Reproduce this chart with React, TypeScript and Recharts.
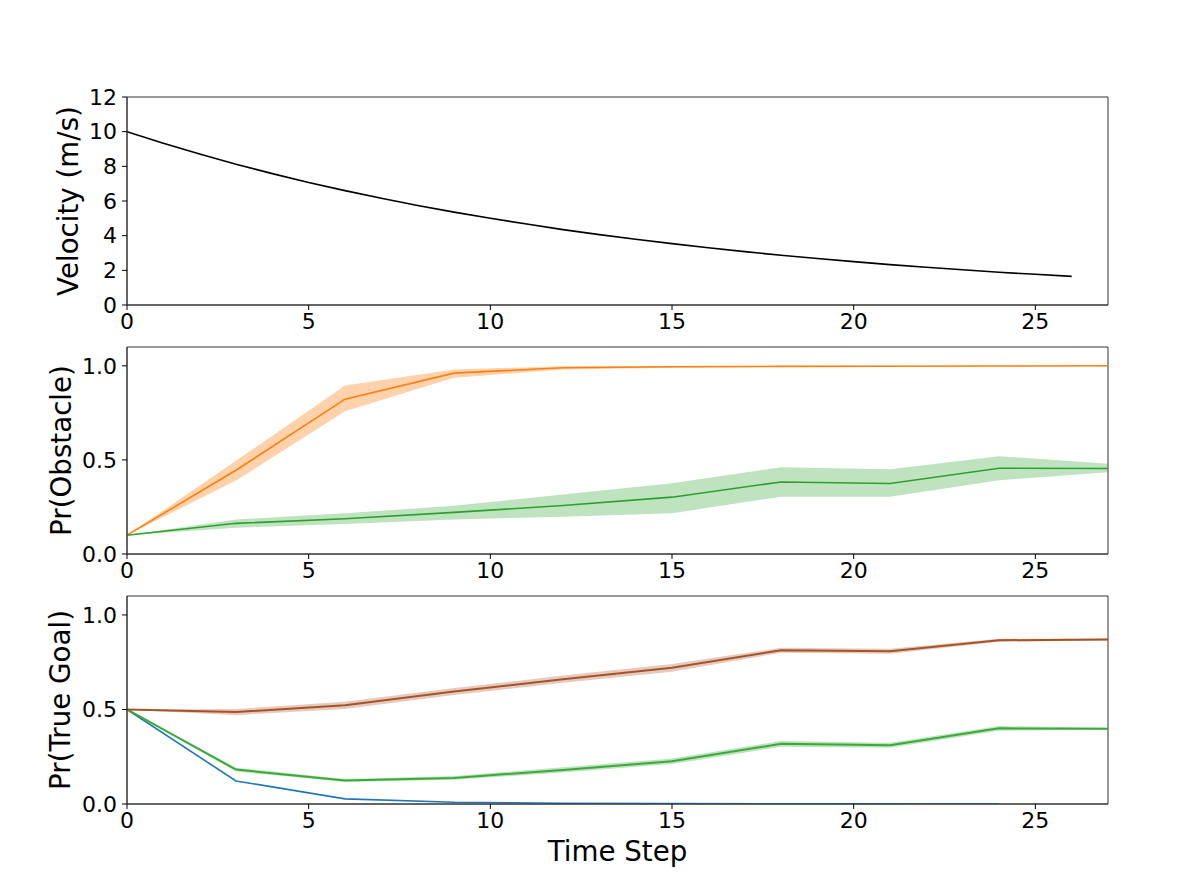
import React from 'react';
import { ComposedChart, Line, Area, XAxis, YAxis, ReferenceArea } from 'recharts';

// ---- data ----
const velocitySteps = [0, 1, 2, 3, 4, 5, 6, 7, 8, 9, 10, 11, 12, 13, 14, 15, 16, 17, 18, 19, 20, 21, 22, 23, 24, 25, 26];
const velocity = [10.0, 9.33, 8.71, 8.12, 7.58, 7.07, 6.6, 6.16, 5.74, 5.36, 5.0, 4.67, 4.35, 4.06, 3.79, 3.54, 3.3, 3.08, 2.87, 2.68, 2.5, 2.33, 2.18, 2.03, 1.89, 1.77, 1.65];

const timeSteps = [0, 3, 6, 9, 12, 15, 18, 21, 24, 27];

const obstacleOrange = [0.1, 0.445, 0.823, 0.961, 0.99, 0.995, 0.997, 0.998, 0.999, 1.0];
const obstacleOrangeLow = [0.1, 0.39, 0.758, 0.937, 0.98, 0.99, 0.994, 0.996, 0.998, 0.999];
const obstacleOrangeHigh = [0.1, 0.495, 0.896, 0.98, 0.998, 0.999, 1.0, 1.0, 1.0, 1.0];
const obstacleGreen = [0.1, 0.163, 0.187, 0.221, 0.258, 0.302, 0.383, 0.375, 0.456, 0.454];
const obstacleGreenLow = [0.1, 0.14, 0.16, 0.184, 0.198, 0.217, 0.304, 0.304, 0.392, 0.435];
const obstacleGreenHigh = [0.1, 0.184, 0.216, 0.256, 0.316, 0.376, 0.461, 0.45, 0.52, 0.48];

const goalBrown = [0.5, 0.486, 0.522, 0.595, 0.66, 0.72, 0.813, 0.808, 0.866, 0.87];
const goalBrownLow = [0.5, 0.47, 0.503, 0.577, 0.641, 0.7, 0.8, 0.795, 0.858, 0.865];
const goalBrownHigh = [0.5, 0.502, 0.541, 0.613, 0.679, 0.74, 0.826, 0.821, 0.874, 0.875];
const goalGreen = [0.5, 0.182, 0.124, 0.138, 0.18, 0.226, 0.318, 0.311, 0.4, 0.398];
const goalGreenLow = [0.5, 0.172, 0.116, 0.128, 0.166, 0.211, 0.303, 0.298, 0.388, 0.393];
const goalGreenHigh = [0.5, 0.192, 0.132, 0.148, 0.194, 0.241, 0.333, 0.324, 0.412, 0.403];
const goalBlue = [0.5, 0.122, 0.027, 0.009, 0.004, 0.002, 0.001, 0.001, 0.0];

const xTicks = [0, 5, 10, 15, 20, 25];
const velocityTicks = [0, 2, 4, 6, 8, 10, 12];
const probTicks = [0, 0.5, 1.0];

// ---- built tables ----
const velocityData = velocitySteps.map((t, i) => ({ t, v: velocity[i] }));
const obstacleData = timeSteps.map((t, i) => ({
  t,
  orange: obstacleOrange[i],
  orangeBand: [obstacleOrangeLow[i], obstacleOrangeHigh[i]],
  green: obstacleGreen[i],
  greenBand: [obstacleGreenLow[i], obstacleGreenHigh[i]],
}));
const goalData = timeSteps.map((t, i) => ({
  t,
  brown: goalBrown[i],
  brownBand: [goalBrownLow[i], goalBrownHigh[i]],
  green: goalGreen[i],
  greenBand: [goalGreenLow[i], goalGreenHigh[i]],
  blue: i < goalBlue.length ? goalBlue[i] : null,
}));

const FONT = 'DejaVu Sans';
const TICK_FONT = 22;
const LABEL_FONT = 27.7;
const W = 1196;
const MARGIN_LEFT = 67;
const Y_AXIS_W = 60;
const MARGIN_RIGHT = 88;
const FRAME = '#333';

const tickStyle = { fontFamily: FONT, fontSize: TICK_FONT, fill: '#000' };

const makeYLabel = (text: string, baselineX: number) => (props: any) => {
  const vb = props.viewBox || {};
  const cy = vb.y + vb.height / 2;
  return (
    <text
      x={baselineX}
      y={cy}
      transform={`rotate(-90, ${baselineX}, ${cy})`}
      textAnchor="middle"
      fontFamily={FONT}
      fontSize={LABEL_FONT}
      fill="#000"
    >
      {text}
    </text>
  );
};

const XLabel = (props: any) => {
  const vb = props.viewBox || {};
  const cx = vb.x + vb.width / 2;
  return (
    <text x={cx} y={vb.y + 57} textAnchor="middle" fontFamily={FONT} fontSize={LABEL_FONT} fill="#000">
      Time Step
    </text>
  );
};

const fmt1 = (v: number) => v.toFixed(1);

export default function App() {
  return (
    <div style={{ position: 'absolute', left: 0, top: 0, width: W, height: 892, background: '#fff' }}>
      {/* Velocity */}
      <div style={{ position: 'absolute', left: 0, top: 0 }}>
        <ComposedChart
          width={W}
          height={345}
          data={velocityData}
          margin={{ top: 97, right: MARGIN_RIGHT, bottom: 0, left: MARGIN_LEFT }}
        >
          <XAxis
            dataKey="t"
            type="number"
            domain={[0, 27]}
            ticks={xTicks}
            height={40}
            tick={tickStyle}
            tickSize={5}
            tickMargin={3}
            stroke={FRAME}
            tickLine={{ stroke: '#000' }}
            allowDataOverflow
          />
          <YAxis
            type="number"
            domain={[0, 12]}
            ticks={velocityTicks}
            width={Y_AXIS_W}
            tick={tickStyle}
            tickSize={5}
            tickMargin={5}
            stroke={FRAME}
            tickLine={{ stroke: '#000' }}
            label={{ content: makeYLabel('Velocity (m/s)', 78) } as any}
            allowDataOverflow
          />
          <ReferenceArea x1={0} x2={27} y1={0} y2={12} fill="none" stroke={FRAME} strokeWidth={1} />
          <Line dataKey="v" stroke="#000" strokeWidth={1.6} dot={false} isAnimationActive={false} />
        </ComposedChart>
      </div>

      {/* Pr(Obstacle) */}
      <div style={{ position: 'absolute', left: 0, top: 310 }}>
        <ComposedChart
          width={W}
          height={284}
          data={obstacleData}
          margin={{ top: 37, right: MARGIN_RIGHT, bottom: 0, left: MARGIN_LEFT }}
        >
          <XAxis
            dataKey="t"
            type="number"
            domain={[0, 27]}
            ticks={xTicks}
            height={40}
            tick={tickStyle}
            tickSize={5}
            tickMargin={3}
            stroke={FRAME}
            tickLine={{ stroke: '#000' }}
            allowDataOverflow
          />
          <YAxis
            type="number"
            domain={[0, 1.1]}
            ticks={probTicks}
            tickFormatter={fmt1}
            width={Y_AXIS_W}
            tick={tickStyle}
            tickSize={5}
            tickMargin={5}
            stroke={FRAME}
            tickLine={{ stroke: '#000' }}
            label={{ content: makeYLabel('Pr(Obstacle)', 71) } as any}
            allowDataOverflow
          />
          <ReferenceArea x1={0} x2={27} y1={0} y2={1.1} fill="none" stroke={FRAME} strokeWidth={1} />
          <Area dataKey="orangeBand" stroke="none" fill="#ff7f0e" fillOpacity={0.35} isAnimationActive={false} />
          <Area dataKey="greenBand" stroke="none" fill="#2ca02c" fillOpacity={0.3} isAnimationActive={false} />
          <Line dataKey="orange" stroke="#ff7f0e" strokeWidth={1.6} dot={false} isAnimationActive={false} />
          <Line dataKey="green" stroke="#2ca02c" strokeWidth={1.6} dot={false} isAnimationActive={false} />
        </ComposedChart>
      </div>

      {/* Pr(True Goal) */}
      <div style={{ position: 'absolute', left: 0, top: 560 }}>
        <ComposedChart
          width={W}
          height={344}
          data={goalData}
          margin={{ top: 36, right: MARGIN_RIGHT, bottom: 60, left: MARGIN_LEFT }}
        >
          <XAxis
            dataKey="t"
            type="number"
            domain={[0, 27]}
            ticks={xTicks}
            height={40}
            tick={tickStyle}
            tickSize={5}
            tickMargin={3}
            stroke={FRAME}
            tickLine={{ stroke: '#000' }}
            label={{ content: XLabel } as any}
            allowDataOverflow
          />
          <YAxis
            type="number"
            domain={[0, 1.1]}
            ticks={probTicks}
            tickFormatter={fmt1}
            width={Y_AXIS_W}
            tick={tickStyle}
            tickSize={5}
            tickMargin={5}
            stroke={FRAME}
            tickLine={{ stroke: '#000' }}
            label={{ content: makeYLabel('Pr(True Goal)', 70) } as any}
            allowDataOverflow
          />
          <ReferenceArea x1={0} x2={27} y1={0} y2={1.1} fill="none" stroke={FRAME} strokeWidth={1} />
          <Area dataKey="brownBand" stroke="none" fill="#a85228" fillOpacity={0.3} isAnimationActive={false} />
          <Area dataKey="greenBand" stroke="none" fill="#2ca02c" fillOpacity={0.3} isAnimationActive={false} />
          <Line dataKey="blue" stroke="#1f77b4" strokeWidth={1.6} dot={false} isAnimationActive={false} />
          <Line dataKey="green" stroke="#3aaa3a" strokeWidth={2} dot={false} isAnimationActive={false} />
          <Line dataKey="brown" stroke="#a85228" strokeWidth={2} dot={false} isAnimationActive={false} />
        </ComposedChart>
      </div>
    </div>
  );
}
